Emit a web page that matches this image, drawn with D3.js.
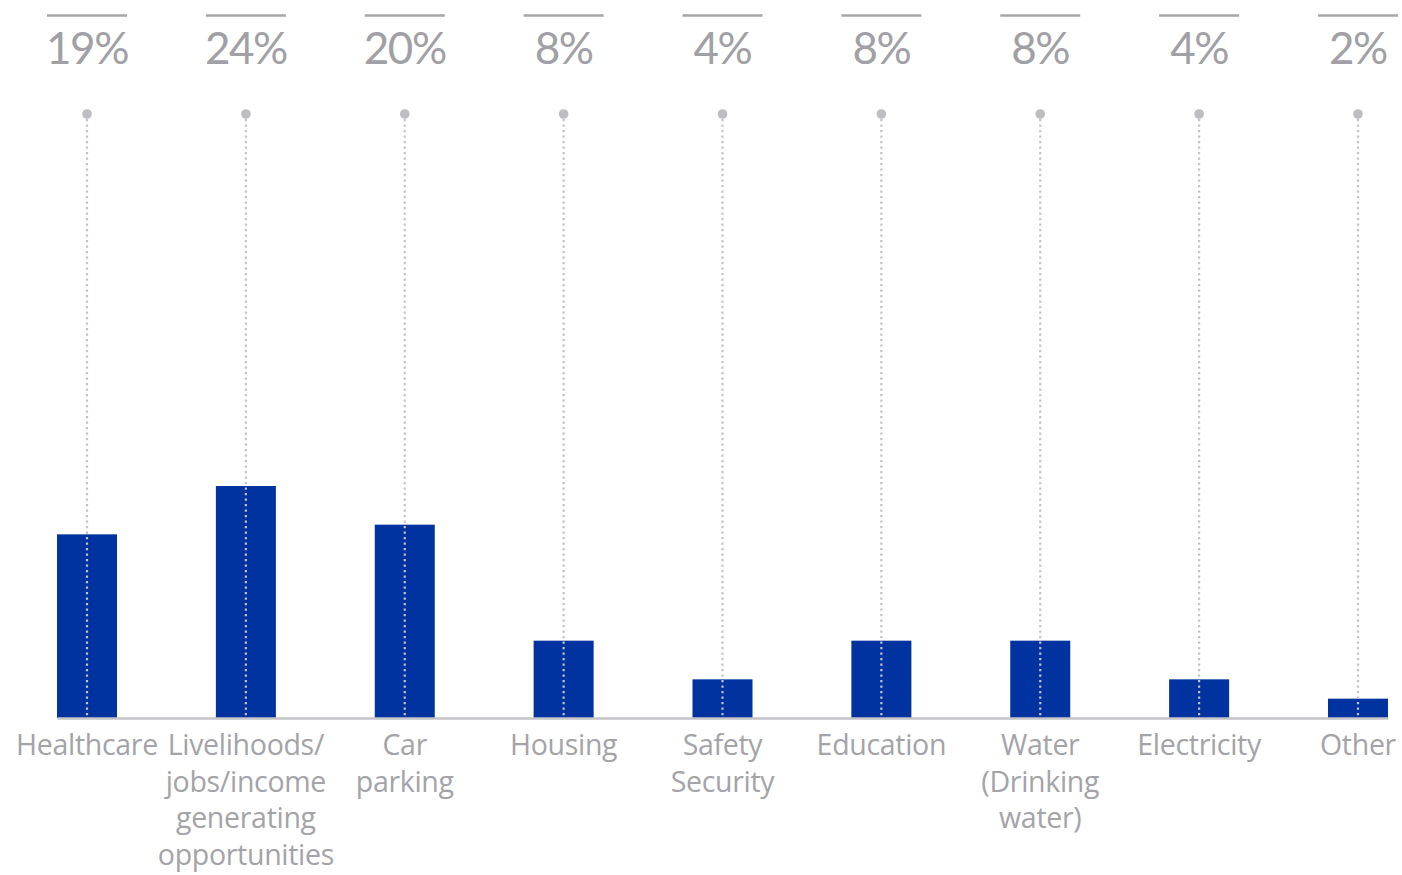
<!DOCTYPE html>
<html>
<head>
<meta charset="utf-8">
<script src="https://cdn.jsdelivr.net/npm/d3@7/dist/d3.min.js"></script>
<style>
  html, body { margin: 0; padding: 0; background: #ffffff; }
  svg { display: block; }
</style>
</head>
<body>
<svg id="chart" width="1402" height="875"></svg>
<script>
// Share of responses by area of concern (%)
const categories = [
  "Healthcare",
  "Livelihoods/\njobs/income\ngenerating\nopportunities",
  "Car\nparking",
  "Housing",
  "Safety\nSecurity",
  "Education",
  "Water\n(Drinking\nwater)",
  "Electricity",
  "Other"
];
const values = [19, 24, 20, 8, 4, 8, 8, 4, 2];
const valueLabels = ["19%", "24%", "20%", "8%", "4%", "8%", "8%", "4%", "2%"];

const svg = d3.select("#chart");

const baseY = 718;
const x = d3.scaleBand()
  .domain(categories)
  .range([57, 1388])
  .paddingInner(0.6223)
  .paddingOuter(0);

const y = d3.scaleLinear()
  .domain([0, 24])
  .range([baseY, 486]);

const cx = d => x(d) + x.bandwidth() / 2;

// Bars
svg.append("g")
  .selectAll("rect")
  .data(categories)
  .join("rect")
  .attr("x", d => x(d))
  .attr("width", x.bandwidth())
  .attr("y", (d, i) => y(values[i]))
  .attr("height", (d, i) => baseY - y(values[i]))
  .attr("fill", "#0033a0");

// Baseline
const axis = svg.append("g")
  .attr("transform", `translate(0,${baseY})`)
  .call(d3.axisBottom(x).tickSize(0).tickFormat(""));
axis.select(".domain").attr("stroke", "#c4c4c8").attr("stroke-width", 2.5);

// Dotted leaders with a round marker on top
const leaders = svg.append("g");
leaders.selectAll("line")
  .data(categories)
  .join("line")
  .attr("x1", cx).attr("x2", cx)
  .attr("y1", 119).attr("y2", baseY - 1)
  .attr("stroke", "#c2c2c7")
  .attr("stroke-width", 2.2)
  .attr("stroke-dasharray", "2.2,3.3");
leaders.selectAll("circle")
  .data(categories)
  .join("circle")
  .attr("cx", cx)
  .attr("cy", 114)
  .attr("r", 4.8)
  .attr("fill", "#bdbdc2");

// Value headers: rule above a large percentage
const headers = svg.append("g");
headers.selectAll("line")
  .data(categories)
  .join("line")
  .attr("x1", d => cx(d) - 40)
  .attr("x2", d => cx(d) + 40)
  .attr("y1", 15.5).attr("y2", 15.5)
  .attr("stroke", "#a6a6aa")
  .attr("stroke-width", 2.5);
headers.selectAll("text")
  .data(categories)
  .join("text")
  .attr("x", cx)
  .attr("y", 64)
  .attr("text-anchor", "middle")
  .attr("font-family", "Lato, 'Open Sans', sans-serif")
  .attr("font-size", 44)
  .attr("letter-spacing", -1.5)
  .attr("fill", "#a0a0a5")
  .text((d, i) => valueLabels[i]);

// Category labels under the baseline
const labels = svg.append("g")
  .selectAll("text")
  .data(categories)
  .join("text")
  .attr("x", cx)
  .attr("y", 755)
  .attr("text-anchor", "middle")
  .attr("font-family", "'Open Sans', 'Noto Sans', sans-serif")
  .attr("font-size", 28.5)
  .attr("letter-spacing", -0.3)
  .attr("fill", "#a3a3a8");
labels.each(function(d) {
  const t = d3.select(this);
  d.split("\n").forEach((line, k) => {
    t.append("tspan")
      .attr("x", cx(d))
      .attr("dy", k === 0 ? 0 : 36.5)
      .text(line);
  });
});
</script>
</body>
</html>
